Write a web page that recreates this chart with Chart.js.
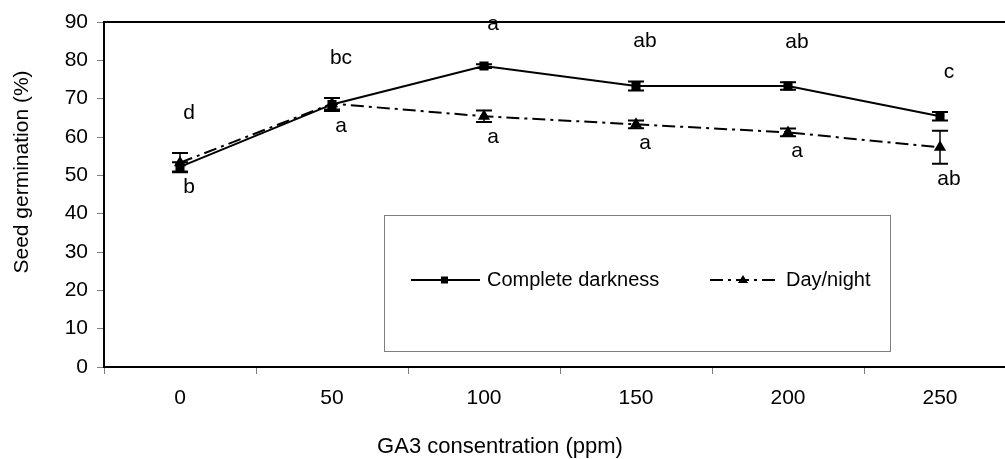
<!DOCTYPE html>
<html>
<head>
<meta charset="utf-8">
<script src="https://cdn.jsdelivr.net/npm/chart.js@4/dist/chart.umd.min.js"></script>
<style>
  body { margin: 0; background: #fff; overflow: hidden; }
  #wrap { width: 1030px; height: 459px; }
</style>
</head>
<body>
<div id="wrap"><canvas id="myChart"></canvas></div>
<script>
// chart data
let xValues = ["0", "50", "100", "150", "200", "250"];
let darkness = [52.2, 68.5, 78.5, 73.3, 73.3, 65.4];
let darknessErr = [1.2, 1.7, 0.5, 1.2, 1.0, 1.1];
let dayNight = [53.3, 68.7, 65.4, 63.3, 61.2, 57.3];
let dayNightErr = [2.5, 1.5, 1.5, 1.0, 1.0, 4.3];
let darknessLetters = ["d", "bc", "a", "ab", "ab", "c"];
let dayNightLetters = ["b", "a", "a", "a", "a", "ab"];
let yTicks = [0, 10, 20, 30, 40, 50, 60, 70, 80, 90];

const FONT = "'Liberation Sans', Arial, sans-serif";
const dashDot = [13, 5, 3, 5];

// error bars, letters, frame top, legend and axis titles
const extras = {
    id: "extras",
    afterDatasetsDraw(chart) {
        const ctx = chart.ctx;
        const x = chart.scales.x;
        const y = chart.scales.y;
        const series = [[darkness, darknessErr], [dayNight, dayNightErr]];

        ctx.save();
        ctx.strokeStyle = "#000";
        series.forEach(function (s) {
            for (let i = 0; i < s[0].length; i++) {
                const px = x.getPixelForValue(i);
                const top = y.getPixelForValue(s[0][i] + s[1][i]);
                const bot = y.getPixelForValue(s[0][i] - s[1][i]);
                ctx.lineWidth = 1.5;
                ctx.beginPath();
                ctx.moveTo(px, top);
                ctx.lineTo(px, bot);
                ctx.stroke();
                ctx.lineWidth = 2;
                ctx.beginPath();
                ctx.moveTo(px - 8, top);
                ctx.lineTo(px + 8, top);
                ctx.moveTo(px - 8, bot);
                ctx.lineTo(px + 8, bot);
                ctx.stroke();
            }
        });

        // significance letters
        ctx.fillStyle = "#000";
        ctx.font = "21px " + FONT;
        ctx.textAlign = "center";
        ctx.textBaseline = "middle";
        for (let i = 0; i < xValues.length; i++) {
            const px = x.getPixelForValue(i) + 9;
            const hi = Math.max(darkness[i] + darknessErr[i], dayNight[i] + dayNightErr[i]);
            const lo = Math.min(darkness[i] - darknessErr[i], dayNight[i] - dayNightErr[i]);
            ctx.fillText(darknessLetters[i], px, y.getPixelForValue(hi) - 40);
            ctx.fillText(dayNightLetters[i], px, y.getPixelForValue(lo) + 15);
        }
        ctx.restore();
    },
    afterDraw(chart) {
        const ctx = chart.ctx;
        const area = chart.chartArea;
        ctx.save();

        // top frame line
        ctx.strokeStyle = "#000";
        ctx.lineWidth = 2;
        ctx.beginPath();
        ctx.moveTo(area.left - 1, area.top);
        ctx.lineTo(area.right, area.top);
        ctx.stroke();

        // legend box
        ctx.strokeStyle = "#7f7f7f";
        ctx.lineWidth = 1;
        ctx.strokeRect(384.5, 215.5, 506, 136);

        const ly = 280;
        ctx.strokeStyle = "#000";
        ctx.lineWidth = 2;
        ctx.beginPath();
        ctx.moveTo(411, ly);
        ctx.lineTo(480, ly);
        ctx.stroke();
        ctx.fillStyle = "#000";
        ctx.fillRect(441, ly - 3.5, 7, 7);

        ctx.setLineDash(dashDot);
        ctx.beginPath();
        ctx.moveTo(710, ly);
        ctx.lineTo(780, ly);
        ctx.stroke();
        ctx.setLineDash([]);
        ctx.beginPath();
        ctx.moveTo(743, ly - 5);
        ctx.lineTo(748, ly + 3);
        ctx.lineTo(738, ly + 3);
        ctx.closePath();
        ctx.fill();

        ctx.font = "20px " + FONT;
        ctx.textAlign = "left";
        ctx.textBaseline = "middle";
        ctx.fillText("Complete darkness", 487, ly);
        ctx.fillText("Day/night", 786, ly);

        // axis titles
        ctx.textAlign = "center";
        ctx.font = "22px " + FONT;
        ctx.fillText("GA3 consentration (ppm)", 500, 447);
        ctx.font = "21px " + FONT;
        ctx.translate(22, 172);
        ctx.rotate(-Math.PI / 2);
        ctx.fillText("Seed germination (%)", 0, 0);
        ctx.restore();
    }
};

let myChart = document.getElementById("myChart").getContext("2d");

Chart.defaults.font.family = FONT;
Chart.defaults.font.size = 21;
Chart.defaults.color = "#000";

var germChart = new Chart(myChart, {
    type: "line",
    data: {
        labels: xValues,
        datasets: [{
            label: "Complete darkness",
            data: darkness,
            borderColor: "#000",
            backgroundColor: "#000",
            borderWidth: 2,
            pointStyle: "rect",
            pointRadius: 5,
            tension: 0
        }, {
            label: "Day/night",
            data: dayNight,
            borderColor: "#000",
            backgroundColor: "#000",
            borderWidth: 2,
            borderDash: dashDot,
            pointStyle: "triangle",
            pointRadius: 5,
            tension: 0
        }]
    },
    options: {
        responsive: true,
        maintainAspectRatio: false,
        animation: false,
        layout: { padding: { top: 22, right: 14, left: 0, bottom: 0 } },
        plugins: {
            legend: { display: false },
            tooltip: { enabled: false }
        },
        scales: {
            x: {
                type: "category",
                offset: true,
                grid: { offset: true, drawOnChartArea: false, tickLength: 7, color: "#808080" },
                border: { color: "#000", width: 2 },
                ticks: { padding: 12, maxRotation: 0 },
                afterFit: function (scale) { scale.height = 92; }
            },
            y: {
                min: 0,
                max: 90,
                afterBuildTicks: function (scale) {
                    scale.ticks = yTicks.map(function (v) { return { value: v }; });
                },
                grid: { drawOnChartArea: false, tickLength: 7, color: "#808080" },
                border: { color: "#000", width: 2 },
                ticks: { padding: 9 },
                afterFit: function (scale) {
                    scale.width = 104;
                    scale.paddingTop = 0;
                    scale.paddingBottom = 0;
                }
            }
        }
    },
    plugins: [extras]
});
</script>
</body>
</html>
